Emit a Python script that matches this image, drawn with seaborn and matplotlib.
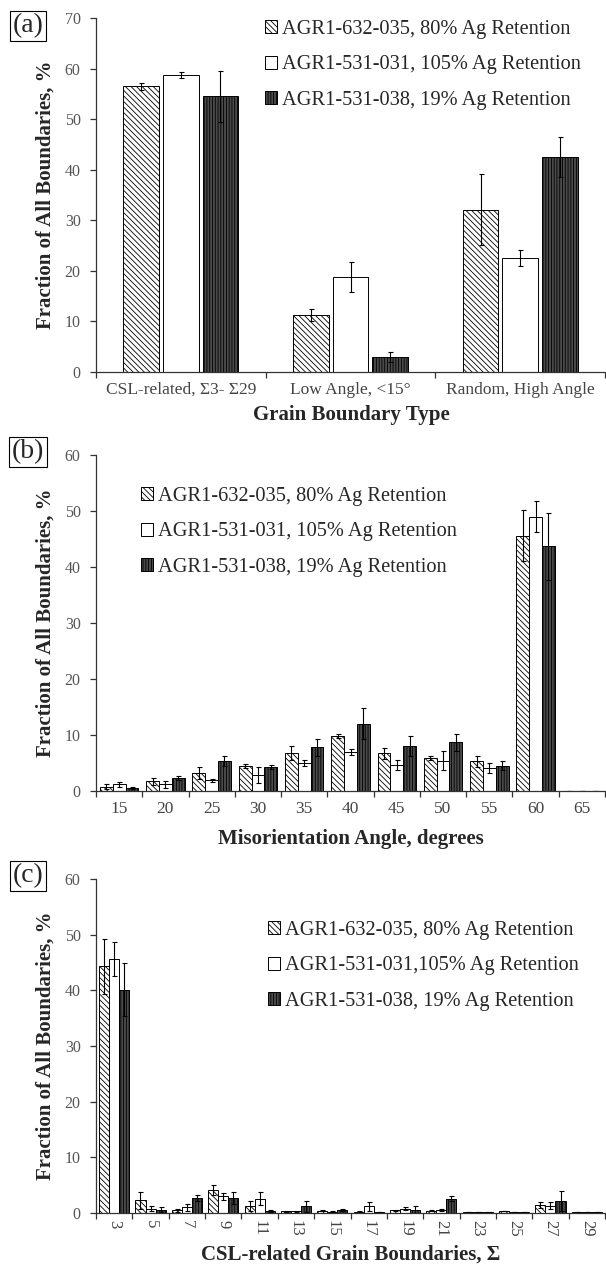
import numpy as np
import pandas as pd
import seaborn as sns
import matplotlib.pyplot as plt
from matplotlib.patches import Patch

sns.set_style('ticks')
plt.rcParams['font.family'] = ['Liberation Serif', 'DejaVu Serif']
plt.rcParams['hatch.linewidth'] = 0.6
plt.rcParams['hatch.color'] = 'black'

series = ['AGR1-632-035, 80% Ag Retention',
          'AGR1-531-031, 105% Ag Retention',
          'AGR1-531-038, 19% Ag Retention']
series_c = ['AGR1-632-035, 80% Ag Retention',
            'AGR1-531-031,105% Ag Retention',
            'AGR1-531-038, 19% Ag Retention']

# (a) grain boundary type
types = ['CSL-related, Σ3- Σ29', 'Low Angle, <15°', 'Random, High Angle']
a_80 = [56.5, 11.3, 32.1]
a_105 = [58.7, 18.8, 22.5]
a_19 = [54.5, 3.0, 42.5]
a_80_err = [0.7, 1.2, 7.0]
a_105_err = [0.6, 2.9, 1.6]
a_19_err = [5.0, 1.0, 4.0]

# (b) misorientation angle
angles = ['15', '20', '25', '30', '35', '40', '45', '50', '55', '60', '65']
b_80 = [0.8, 1.7, 3.2, 4.5, 6.8, 9.8, 6.7, 5.9, 5.3, 45.6, 0]
b_105 = [1.2, 1.2, 1.9, 2.8, 5.0, 7.0, 4.7, 5.4, 4.1, 49.0, 0]
b_19 = [0.6, 2.3, 5.4, 4.3, 7.8, 12.0, 8.0, 8.7, 4.5, 43.7, 0]
b_80_err = [0.4, 0.6, 1.0, 0.4, 1.3, 0.4, 0.9, 0.3, 1.0, 4.6, 0]
b_105_err = [0.4, 0.6, 0.3, 1.4, 0.5, 0.5, 0.9, 1.7, 0.9, 2.7, 0]
b_19_err = [0.2, 0.3, 0.9, 0.4, 1.5, 2.8, 1.8, 1.5, 0.8, 6.0, 0]

# (c) CSL sigma
sigmas = ['3', '5', '7', '9', '11', '13', '15', '17', '19', '21', '23', '25', '27', '29']
c_80 = [44.3, 2.3, 0.5, 4.2, 1.2, 0.3, 0.4, 0.2, 0.5, 0.4, 0.1, 0.3, 1.4, 0.1]
c_105 = [45.6, 0.8, 1.0, 3.0, 2.6, 0.3, 0.2, 1.2, 0.8, 0.6, 0.1, 0.1, 1.3, 0.1]
c_19 = [40.1, 0.6, 2.7, 2.7, 0.4, 1.2, 0.5, 0.1, 0.6, 2.6, 0.2, 0.1, 2.2, 0.1]
c_80_err = [5.0, 1.5, 0.3, 0.9, 0.9, 0.1, 0.1, 0.1, 0.1, 0.1, 0.0, 0.0, 0.5, 0.0]
c_105_err = [3.0, 0.5, 0.6, 0.6, 1.2, 0.1, 0.1, 0.8, 0.3, 0.2, 0.0, 0.0, 0.6, 0.0]
c_19_err = [4.8, 0.5, 0.6, 1.1, 0.2, 1.0, 0.2, 0.0, 0.6, 0.4, 0.0, 0.0, 1.8, 0.0]

faces = ['white', 'white', '#4a4a4a']
hatches = ['\\\\\\\\\\\\', '', '||||||']

W, H = 606, 1269
fig = plt.figure(figsize=(W / 100, H / 100), dpi=100)


def fy(px):
    return 1 - px / H


def panel(top, bottom, cats, vals, errs, names, ymax, width, gap,
          leg_x, leg_y, tag, xlabel, tick_pad, rot=0, tick_size=12.5):
    ax = fig.add_axes([96 / W, fy(bottom), (605 - 96) / W, (bottom - top) / H])
    n = len(cats)
    df = pd.DataFrame({
        'cat': cats * 3,
        'val': vals[0] + vals[1] + vals[2],
        'series': [s for s in names for _ in cats],
    })
    sns.barplot(data=df, x='cat', y='val', hue='series', order=cats,
                hue_order=names, palette=faces, saturation=1,
                width=width, gap=gap, edgecolor='black', linewidth=0.7,
                errorbar=None, legend=False, ax=ax)
    bar_groups = list(ax.containers)
    for i, cont in enumerate(bar_groups):
        xs, ys = [], []
        for bar in cont:
            bar.set_hatch(hatches[i])
            bar.set_facecolor(faces[i])
            bar.set_edgecolor('black')
            xs.append(bar.get_x() + bar.get_width() / 2)
            ys.append(bar.get_height())
        ax.errorbar(xs, ys, yerr=errs[i], fmt='none', ecolor='black',
                    elinewidth=0.8, capsize=1.8, capthick=0.8)

    ax.set_ylim(0, ymax)
    ax.set_yticks(range(0, ymax + 1, 10))
    ax.set_xlim(-0.5, n - 0.5)
    ax.set_xticks(range(n))
    ax.set_xticklabels(cats, rotation=rot)
    ax.set_xticks(np.arange(n + 1) - 0.5, minor=True)
    ax.tick_params(axis='x', which='major', length=0, pad=tick_pad,
                   labelsize=tick_size, labelcolor='#444444')
    ax.tick_params(axis='x', which='minor', length=4, width=0.9, color='#333333')
    ax.tick_params(axis='y', length=4, width=0.9, pad=7, labelsize=11.5,
                   labelcolor='#555555', color='#333333')
    ax.set_xlabel('')
    ax.set_ylabel('')
    sns.despine(ax=ax)
    for sp in ['left', 'bottom']:
        ax.spines[sp].set_color('#333333')
        ax.spines[sp].set_linewidth(0.9)

    handles = [Patch(facecolor=faces[i], edgecolor='black', hatch=hatches[i],
                     linewidth=0.7) for i in range(3)]
    fig.legend(handles, names, loc='upper left',
               bbox_to_anchor=(leg_x / W, fy(leg_y)), frameon=False,
               fontsize=14.7, handlelength=0.6, handleheight=0.6,
               handletextpad=0.25, labelspacing=0.8, borderpad=0,
               borderaxespad=0)

    fig.text(46 / W, fy((top + bottom) / 2), 'Fraction of All Boundaries, %',
             rotation=90, ha='center', va='center', fontsize=15,
             fontweight='bold')
    fig.text(351 / W, fy(xlabel[1]), xlabel[0], ha='center', va='center',
             fontsize=15, fontweight='bold')
    fig.text(28 / W, fy(tag[1]), tag[0], ha='center', va='center',
             fontsize=20,
             bbox=dict(boxstyle='square,pad=0.1', fc='white', ec='black', lw=0.8))
    return ax


panel(18, 372, types, [a_80, a_105, a_19], [a_80_err, a_105_err, a_19_err],
      series, 70, 0.7, 0.1, 265, 20, ('(a)', 26), ('Grain Boundary Type', 415), 7)
panel(455, 791, angles, [b_80, b_105, b_19], [b_80_err, b_105_err, b_19_err],
      series, 60, 0.83, 0, 141, 487, ('(b)', 452),
      ('Misorientation Angle, degrees', 839), 7)
panel(879, 1213, sigmas, [c_80, c_105, c_19], [c_80_err, c_105_err, c_19_err],
      series_c, 60, 0.83, 0, 268, 921, ('(c)', 876),
      ('CSL-related Grain Boundaries, Σ', 1255), 5, rot=-90, tick_size=12)

fig.savefig('out.png', dpi=100)
